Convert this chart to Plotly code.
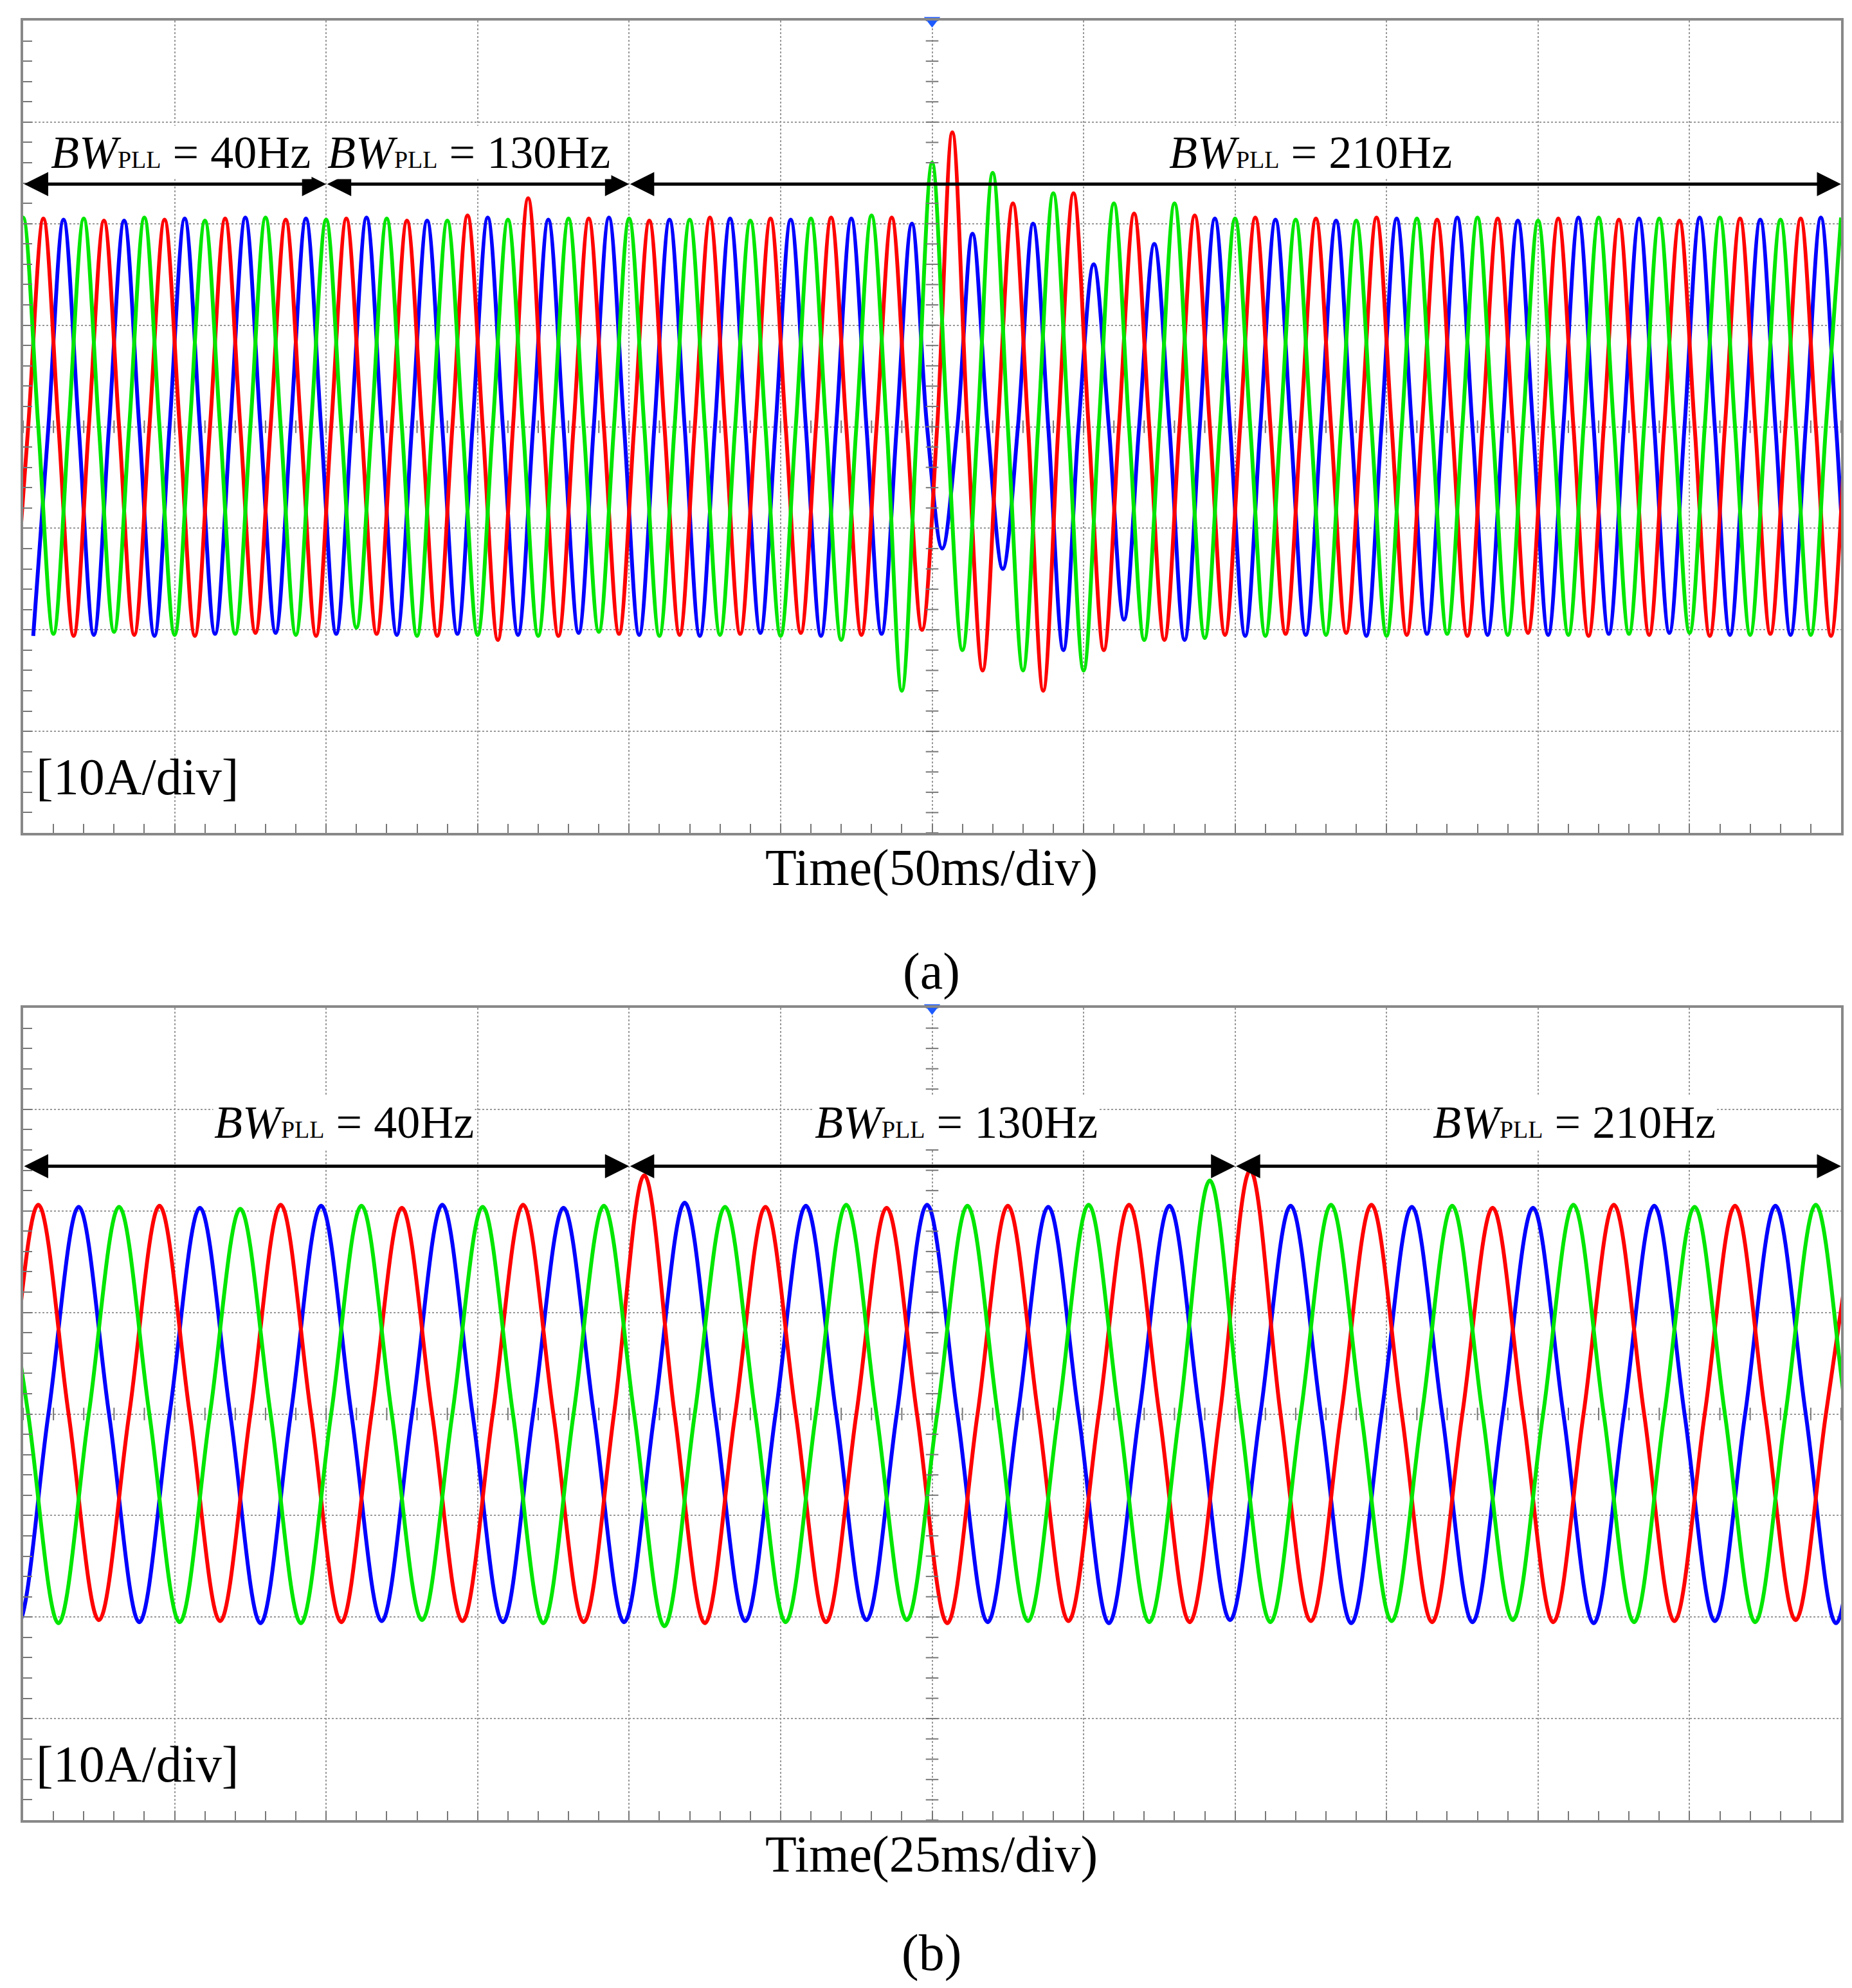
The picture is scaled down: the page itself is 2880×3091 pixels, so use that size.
import plotly.graph_objects as go

# ---------------- data (peak magnitudes of each half cycle, A) ----------------
F_HZ = 50
# panel (a): 50 ms/div, 12 div ; extremum times = t0 + 10*k ms, k from -1
T0_A = {"green": 0.0, "red": 6.67, "blue": 13.33}
GREEN_A = [20.3, 20.6, 20.4, 20.5, 20.2, 20.6, 20.5, 20.3, 20.4, 20.6, 20.5, 20.4, 19.8, 20.5, 20.6,
           20.3, 20.5, 20.4, 20.6, 20.5, 20.2, 20.5, 20.6, 20.4, 20.5, 20.3, 20.6, 20.5, 21.0, 20.8,
           26.0, 26.0, 22.0, 25.0, 24.0, 23.0, 24.0, 22.0, 21.0, 22.0,
           20.8, 20.5, 20.6, 20.4, 20.5, 20.3, 20.6, 20.5, 20.4, 20.6, 20.5, 20.3, 20.5, 20.6, 20.4,
           20.5, 20.3, 20.6, 20.5, 20.4, 20.5, 20.6]
RED_A = [20.4, 20.5, 20.6, 20.3, 20.5, 20.4, 20.6, 20.5, 20.3, 20.4, 20.6, 20.5, 20.4, 20.3, 20.6,
         20.8, 21.0, 22.5, 20.6, 20.5, 20.4, 20.3, 20.5, 20.6, 20.4, 20.5, 20.3, 20.6, 20.5, 20.6,
         20.0, 29.0, 24.0, 22.0, 26.0, 23.0, 22.0, 21.0, 21.0, 20.8,
         20.5, 20.6, 20.4, 20.5, 20.3, 20.6, 20.5, 20.4, 20.6, 20.5, 20.3, 20.5, 20.6, 20.4, 20.5,
         20.3, 20.6, 20.5, 20.4, 20.5, 20.6, 20.4]
BLUE_A = [20.6, 20.4, 20.5, 20.3, 20.6, 20.5, 20.4, 20.6, 20.3, 20.5, 20.4, 20.6, 20.5, 20.3, 20.4,
          20.6, 20.5, 20.4, 20.3, 20.6, 20.5, 20.4, 20.6, 20.5, 20.3, 20.4, 20.6, 20.5, 20.4, 20.0,
          12.0, 19.0, 14.0, 20.0, 22.0, 16.0, 19.0, 18.0, 21.0, 20.5,
          20.6, 20.4, 20.5, 20.3, 20.6, 20.5, 20.4, 20.6, 20.5, 20.3, 20.5, 20.6, 20.4, 20.5, 20.3,
          20.6, 20.5, 20.4, 20.5, 20.6, 20.4, 20.5]
# panel (b): 25 ms/div, 12 div ; extremum times = t0 + 10*k ms, k from -2
T0_B = {"red": 2.5, "blue": 9.17, "green": 15.83}
RED_B = [20.4, 20.5, 20.6, 20.3, 20.5, 20.4, 20.6, 20.5, 20.3, 20.4, 20.6, 20.5, 23.5, 20.6, 20.4,
         20.5, 20.3, 20.6, 20.5, 20.4, 20.6, 20.5, 24.0, 20.4, 20.6, 20.5, 20.3, 20.5, 20.6, 20.4,
         20.5, 20.3, 20.6]
BLUE_B = [20.5, 20.6, 20.4, 20.5, 20.3, 20.6, 20.5, 20.4, 20.6, 20.5, 20.3, 20.5, 20.8, 20.4, 20.5,
          20.3, 20.6, 20.5, 20.4, 20.6, 20.5, 20.3, 20.5, 20.6, 20.4, 20.5, 20.3, 20.6, 20.5, 20.4,
          20.5, 20.6, 20.4]
GREEN_B = [20.3, 20.6, 20.4, 20.5, 20.2, 20.6, 20.5, 20.3, 20.4, 20.6, 20.5, 20.9, 20.4, 20.5, 20.6,
           20.3, 20.5, 20.4, 20.6, 20.5, 23.0, 20.5, 20.6, 20.4, 20.5, 20.3, 20.6, 20.5, 20.4, 20.5,
           20.6, 20.4, 20.5]

LABELS_A = ["40Hz", "130Hz", "210Hz"]
SEG_A = [0, 100, 200, 600]
LABELS_B = ["40Hz", "130Hz", "210Hz"]
SEG_B = [0, 100, 200, 300]

COLORS = {"red": "#FF0000", "blue": "#0000FF", "green": "#00E600"}
SERIF = "Liberation Serif, Times New Roman, serif"

fig = go.Figure()
W, H = 2880, 3091
XD = [28 / W, 2855 / W]
YD_A = [1 - 1287 / H, 1 - 24 / H]
YD_B = [1 - 2822 / H, 1 - 1559 / H]


def wave(t0, mags, kstart):
    xs, ys = [], []
    half = 1000 / F_HZ / 2
    for i, m in enumerate(mags):
        k = kstart + i
        t = t0 + half * k
        s = 1 if k % 2 == 0 else -1
        if i > 0:
            xs.append(t - half / 2); ys.append(0.0)
        xs.append(t); ys.append(s * m)
    return xs, ys


panels = [
    ("x", "y", T0_A, {"green": GREEN_A, "red": RED_A, "blue": BLUE_A}, -1, 600, 50, SEG_A, LABELS_A,
     [52, 147, 425], 27.0, 23.9),
    ("x2", "y2", T0_B, {"green": GREEN_B, "red": RED_B, "blue": BLUE_B}, -2, 300, 25, SEG_B, LABELS_B,
     [53, 154, 256], 28.7, 24.4),
]

for xa, ya, t0s, mags, kst, xmax, dt, seg, labs, lx, ly, ay in panels:
    for name in ["blue", "red", "green"]:
        xs, ys = wave(t0s[name], mags[name], kst)
        fig.add_trace(go.Scatter(x=xs, y=ys, mode="lines", line=dict(color=COLORS[name], width=6, shape="spline"),
                                 xaxis=xa, yaxis=ya, showlegend=False, hoverinfo="skip"))
    sub = dt / 5
    cx = xmax / 2
    xt = [i * sub for i in range(int(xmax / sub) + 1)]
    yt = [-40 + i * 2 for i in range(41)]
    fig.add_trace(go.Scatter(x=xt, y=[0] * len(xt), mode="markers",
                             marker=dict(symbol="line-ns-open", size=14, color="#777", line=dict(color="#777", width=2)),
                             xaxis=xa, yaxis=ya, showlegend=False, hoverinfo="skip"))
    fig.add_trace(go.Scatter(x=[cx] * len(yt), y=yt, mode="markers",
                             marker=dict(symbol="line-ew-open", size=14, color="#777", line=dict(color="#777", width=2)),
                             xaxis=xa, yaxis=ya, showlegend=False, hoverinfo="skip"))
    fig.add_trace(go.Scatter(x=[cx], y=[40], mode="markers", cliponaxis=False,
                             marker=dict(symbol="triangle-down", size=22, color="#1E5BFF"),
                             xaxis=xa, yaxis=ya, showlegend=False, hoverinfo="skip"))
    for i in range(3):
        fig.add_annotation(x=seg[i + 1], y=ay, ax=seg[i], ay=ay, xref=xa, yref=ya, axref=xa, ayref=ya,
                           showarrow=True, arrowhead=2, arrowside="end+start", arrowsize=1.5, arrowwidth=5,
                           arrowcolor="black", text="")
        fig.add_annotation(x=lx[i], y=ly, xref=xa, yref=ya, showarrow=False,
                           text="<i>BW</i><span style='font-size:38px'>PLL</span> = " + labs[i],
                           font=dict(family=SERIF, size=72, color="black"), bgcolor="white")
    fig.add_annotation(x=0, y=-34.5, xref=xa, yref=ya, xanchor="left", showarrow=False,
                       text="[10A/div]", font=dict(family=SERIF, size=80, color="black"), xshift=18)

common_x = dict(showgrid=True, gridcolor="#999", griddash="dot", gridwidth=2, zeroline=False,
                showline=True, linecolor="#888", linewidth=4, mirror=True, ticks="inside", ticklen=14,
                tickcolor="#777", tickwidth=2, showticklabels=False,
                minor=dict(ticks="inside", ticklen=14, tickcolor="#777", tickwidth=2, nticks=5))
fig.update_layout(
    width=W, height=H, paper_bgcolor="white", plot_bgcolor="white", margin=dict(l=0, r=0, t=0, b=0),
    xaxis=dict(domain=XD, range=[0, 600], dtick=50, anchor="y", **common_x),
    yaxis=dict(domain=YD_A, range=[-40, 40], dtick=10, anchor="x", **common_x),
    xaxis2=dict(domain=XD, range=[0, 300], dtick=25, anchor="y2", **common_x),
    yaxis2=dict(domain=YD_B, range=[-40, 40], dtick=10, anchor="x2", **common_x),
)
for txt, yp in [("Time(50ms/div)", 1342), ("(a)", 1503), ("Time(25ms/div)", 2875), ("(b)", 3028)]:
    fig.add_annotation(x=0.5, y=1 - yp / H, xref="paper", yref="paper", yanchor="middle", showarrow=False,
                       text=txt, font=dict(family=SERIF, size=80, color="black"))

fig.write_html("out.html")
